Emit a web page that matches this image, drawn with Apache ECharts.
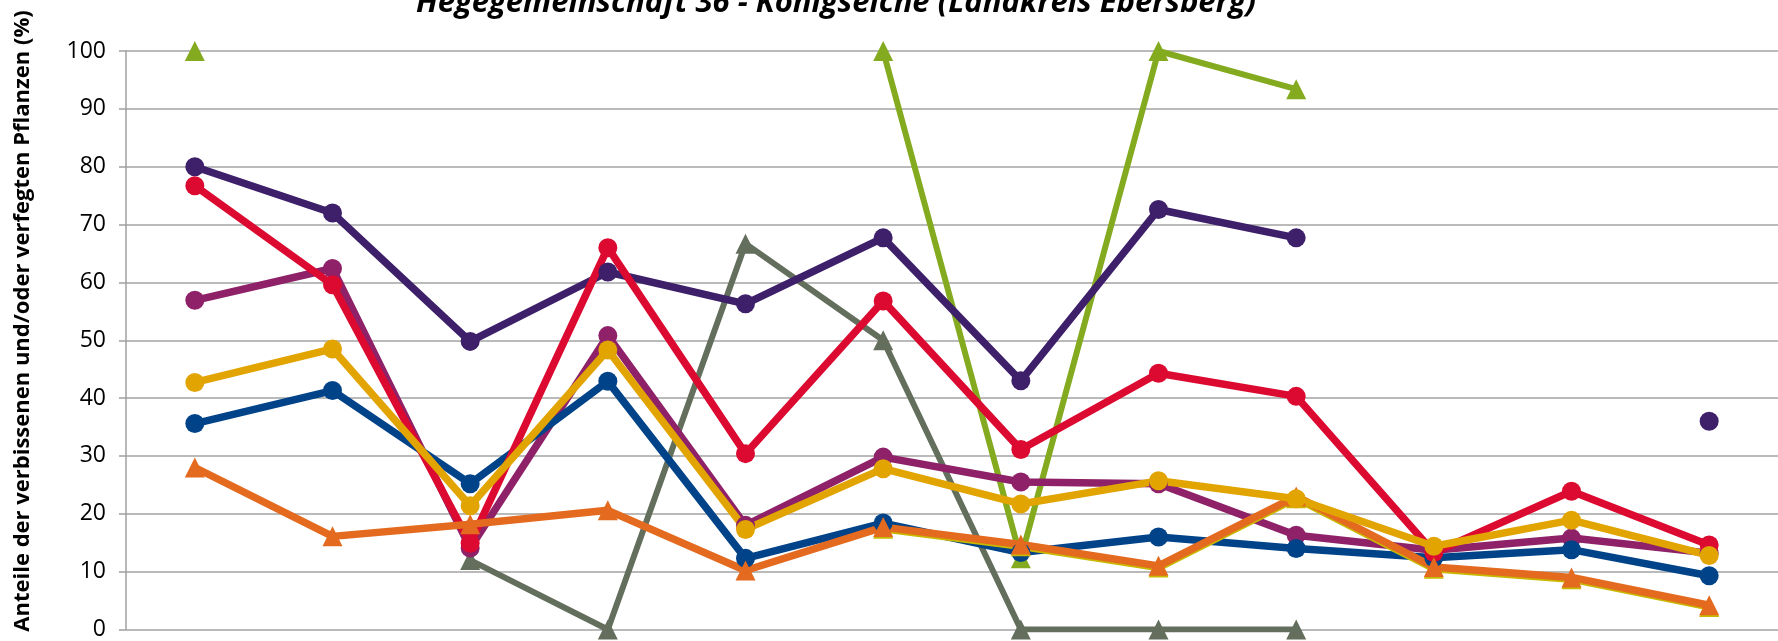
<!DOCTYPE html>
<html>
<head>
<meta charset="utf-8">
<script src="https://cdn.jsdelivr.net/npm/echarts@6/dist/echarts.min.js"></script>
<style>
  html, body { margin: 0; padding: 0; background: #fff; }
  #chart { width: 1778px; height: 641px; }
</style>
</head>
<body>
<div id="chart"></div>
<script>
const years = ['1991', '1994', '1997', '2000', '2003', '2006', '2009', '2012', '2015', '2018', '2021', '2024']
const yTicks = [0, 10, 20, 30, 40, 50, 60, 70, 80, 90, 100]

const tanne = [80, 72, 49.8, 61.8, 56.3, 67.7, 43, 72.6, 67.7, null, null, 36]
const edellaub = [76.7, 59.6, 14.9, 66, 30.4, 56.8, 31.1, 44.3, 40.3, 13.3, 23.9, 14.6]
const eiche = [56.9, 62.4, 14.1, 50.8, 18, 29.8, 25.5, 25.2, 16.3, 13.7, 15.8, 13.2]
const laubholz = [42.7, 48.5, 21.4, 48.3, 17.3, 27.8, 21.7, 25.7, 22.6, 14.4, 18.9, 12.8]
const buche = [35.6, 41.3, 25.2, 42.9, 12.3, 18.4, 13.3, 16, 14, 12.4, 13.8, 9.3]
const fichte = [28, 16.1, 18.2, 20.6, 10.2, 17.7, 14.7, 11, 23, 10.8, 9, 4.2]
const nadelholz = [null, null, null, null, null, 17.4, 14.4, 10.7, 22.7, 10.5, 8.7, 3.9]
const laerche = [100, null, null, null, null, 100, 12.3, 100, 93.4, null, null, null]
const kiefer = [null, null, 12, 0, 66.7, 50, 0, 0, 0, null, null, null]

const chart = echarts.init(document.getElementById('chart'))

const line = (name, data, color, symbol, width) => ({
  name,
  type: 'line',
  data,
  symbol,
  symbolSize: symbol === 'circle' ? 19 : 20,
  connectNulls: false,
  itemStyle: { color },
  lineStyle: { color, width },
})

chart.setOption({
  animation: false,
  title: {
    text: 'Hegegemeinschaft 36 - Königseiche (Landkreis Ebersberg)',
    left: 831,
    top: -17,
    textAlign: 'center',
    textStyle: {
      fontFamily: 'Open Sans',
      fontSize: 31,
      fontWeight: 'bold',
      fontStyle: 'italic',
      color: '#000',
    },
  },
  graphic: [
    {
      type: 'text',
      x: 23,
      y: 321,
      rotation: Math.PI / 2,
      style: {
        text: 'Anteile der verbissenen und/oder verfegten Pflanzen (%)',
        fontFamily: 'Open Sans',
        fontSize: 22,
        fontWeight: 'bold',
        fill: '#000',
        align: 'center',
        verticalAlign: 'middle',
      },
    },
  ],
  grid: { left: 126, right: -12, top: 51, bottom: 0 },
  xAxis: {
    type: 'category',
    data: years,
    boundaryGap: true,
    axisLine: { show: false },
    axisTick: { show: false },
    axisLabel: { show: false },
  },
  yAxis: {
    type: 'value',
    min: yTicks[0],
    max: yTicks[yTicks.length - 1],
    interval: 10,
    axisLine: { show: true, lineStyle: { color: '#a0a0a0', width: 1.5 } },
    axisTick: { show: true, length: 7, lineStyle: { color: '#a0a0a0', width: 1.5 } },
    axisLabel: {
      margin: 20,
      fontFamily: 'Open Sans',
      fontSize: 23,
      color: '#000',
    },
    splitLine: { lineStyle: { color: '#a3a3a3', width: 1.5 } },
  },
  series: [
    line('Lärche', laerche, '#84aa20', 'triangle', 6),
    line('Kiefer', kiefer, '#636f5c', 'triangle', 6),
    line('Tanne', tanne, '#3d1f6a', 'circle', 7.5),
    line('Eiche', eiche, '#8e2168', 'circle', 7.5),
    line('Buche', buche, '#004388', 'circle', 7.5),
    line('Edellaubholz', edellaub, '#dc0a30', 'circle', 7.5),
    line('Sonstiges Nadelholz', nadelholz, '#c8b800', 'triangle', 7.5),
    line('Fichte', fichte, '#e36a1e', 'triangle', 7.5),
    line('Sonstiges Laubholz', laubholz, '#e2a400', 'circle', 7.5),
  ],
})

window.addEventListener('resize', () => chart.resize())
</script>
</body>
</html>
